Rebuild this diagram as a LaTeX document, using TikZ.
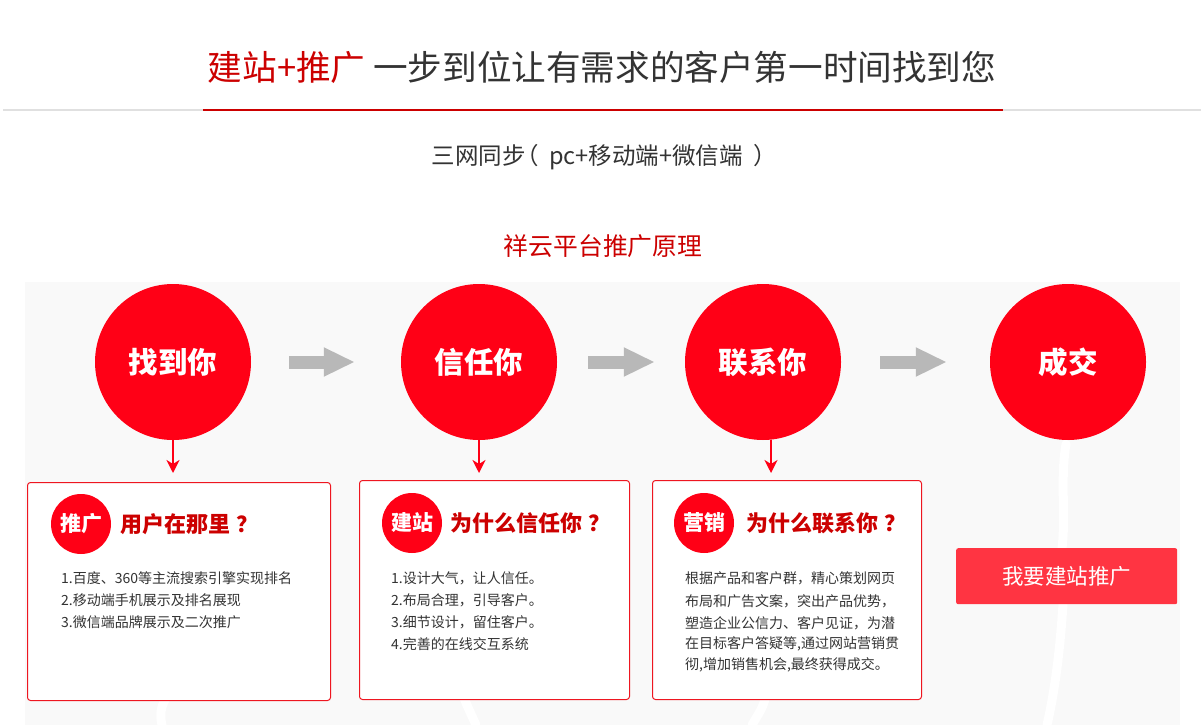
\documentclass[tikz,border=0pt]{standalone}
\usepackage{fontspec}
\setmainfont{Noto Sans CJK SC}
\usetikzlibrary{arrows.meta}
\definecolor{tred}{HTML}{CC0000}
\definecolor{cred}{HTML}{FF0016}
\definecolor{bred}{HTML}{EE1620}
\definecolor{btn}{HTML}{FF3442}
\definecolor{txt}{HTML}{333333}
\definecolor{bgc}{HTML}{F9F9F9}
\definecolor{garr}{HTML}{B8B8B8}
\definecolor{lgray}{HTML}{E0E0E0}
\begin{document}
\begin{tikzpicture}[x=1pt,y=-1pt,
  bigcirc/.style={circle, fill=cred, minimum size=156pt, inner sep=0pt, text=white, font=\fontsize{29.5}{29.5}\selectfont\bfseries},
  smallcirc/.style={circle, fill=cred, minimum size=60pt, inner sep=0pt, text=white, font=\fontsize{21}{21}\selectfont\bfseries},
  boxframe/.style={draw=bred, line width=1pt, rounded corners=3pt, fill=white, anchor=north west, inner sep=0pt},
  boxtitle/.style={anchor=west, text=tred, font=\fontsize{22}{22}\selectfont\bfseries, inner sep=0pt},
  bodyline/.style={anchor=west, text=txt, font=\fontsize{14}{14}\selectfont, inner sep=0pt},
  garrow/.style={draw=garr, line width=13pt, -{Triangle[length=31pt,width=27pt]}},
  rarrow/.style={draw=cred, line width=2pt, -{Stealth[length=13pt,width=13pt,inset=4pt]}},
  swoosh/.style={draw=white, line width=9pt, line cap=round}
]
\useasboundingbox (0,0) rectangle (1201,725);
\fill[white] (0,0) rectangle (1201,725);

% header
\node[font=\fontsize{34.6}{34.6}\selectfont, text=txt, inner sep=0pt] (title) at (602,67)
  {{\color{tred}建站+推广} 一步到位让有需求的客户第一时间找到您};
\draw[lgray, line width=2pt] (3,110) -- (1201,110);
\draw[tred, line width=2pt] (203,110) -- (1003,110);
\node[font=\fontsize{23.5}{23.5}\selectfont, text=txt, inner sep=0pt] (sub) at (599,157)
  {三网同步\kern-0.45em（\kern0.45em pc+移动端+微信端\kern0.45em）\kern-0.45em};
\node[font=\fontsize{24.8}{24.8}\selectfont, text=tred, inner sep=0pt] (head) at (603,246)
  {祥云平台推广原理};

% background
\fill[bgc] (25,282) rectangle (1180,725);

% decorative white strokes
\draw[swoosh] (1066,444) .. controls (1060,480) and (1066,515) .. (1062,548);
\draw[swoosh] (1063,604) .. controls (1060,650) and (1055,690) .. (1047,725);
\draw[swoosh] (166,698) .. controls (160,708) and (160,716) .. (162,725);
\draw[swoosh] (464,698) .. controls (468,708) and (472,716) .. (476,725);
\draw[swoosh] (766,690) .. controls (766,705) and (758,714) .. (752,725);

% circles
\node[bigcirc] (c1) at (173,362) {找到你};
\node[bigcirc] (c2) at (479,362) {信任你};
\node[bigcirc] (c3) at (763,362) {联系你};
\node[bigcirc] (c4) at (1068,362) {成交};

\draw[garrow, shorten <=38pt, shorten >=46pt] (c1.east) -- (c2.west);
\draw[garrow, shorten <=31pt, shorten >=30pt] (c2.east) -- (c3.west);
\draw[garrow, shorten <=39pt, shorten >=43pt] (c3.east) -- (c4.west);

% boxes
\node[boxframe, minimum width=303pt, minimum height=218pt] (b1) at (27,482) {};
\node[boxframe, minimum width=270pt, minimum height=219pt] (b2) at (359,480) {};
\node[boxframe, minimum width=269pt, minimum height=219pt] (b3) at (652,480) {};

\coordinate (a1) at (173,473);
\coordinate (a2) at (479,473);
\coordinate (a3) at (771,473);
\draw[rarrow] (c1.south) -- (a1);
\draw[rarrow] (c2.south) -- (a2);
\draw[rarrow] (c3.south -| a3) -- (a3);

% box 1
\node[smallcirc] (s1) at (81,524) {推广};
\node[boxtitle] (t1) at (120,524) {用户在那里\kern0.3em？};
\node[bodyline] (l11) at (61,578) {1.百度、360等主流搜索引擎实现排名};
\node[bodyline] (l12) at (61,600) {2.移动端手机展示及排名展现};
\node[bodyline] (l13) at (61,622) {3.微信端品牌展示及二次推广};

% box 2
\node[smallcirc] (s2) at (412,523) {建站};
\node[boxtitle] (t2) at (450,523) {为什么信任你\kern0.3em？};
\node[bodyline] (l21) at (391,578) {1.设计大气，让人信任。};
\node[bodyline] (l22) at (391,600) {2.布局合理，引导客户。};
\node[bodyline] (l23) at (391,622) {3.细节设计，留住客户。};
\node[bodyline] (l24) at (391,644) {4.完善的在线交互系统};

% box 3
\node[smallcirc] (s3) at (704,523) {营销};
\node[boxtitle] (t3) at (746,523) {为什么联系你\kern0.3em？};
\node[bodyline] (l31) at (685,578) {根据产品和客户群，精心策划网页};
\node[bodyline] (l32) at (685,601) {布局和广告文案，突出产品优势，};
\node[bodyline] (l33) at (685,623) {塑造企业公信力、客户见证，为潜};
\node[bodyline] (l34) at (685,644) {在目标客户答疑等,通过网站营销贯};
\node[bodyline] (l35) at (685,665) {彻,增加销售机会,最终获得成交。};

% button
\node[fill=btn, rounded corners=2pt, anchor=north west, minimum width=221pt, minimum height=56pt, inner sep=0pt,
  text=white, font=\fontsize{21.5}{21.5}\selectfont] (btn) at (956,548) {我要建站推广};
\end{tikzpicture}
\end{document}
